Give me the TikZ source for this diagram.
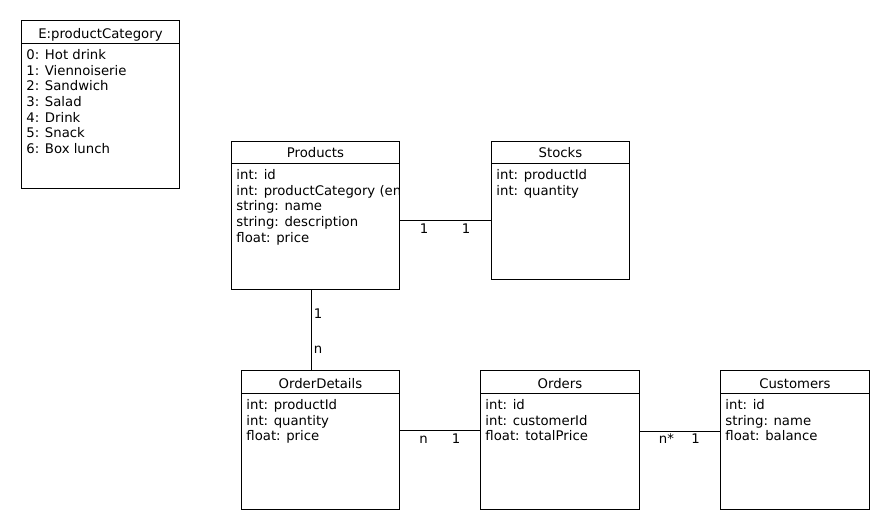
\documentclass[tikz,border=0pt]{standalone}
\usepackage{fontspec}
\setmainfont{DejaVu Sans}
\usetikzlibrary{calc}

\tikzset{
  cls/.style={draw, line width=0.9bp, inner sep=0pt, anchor=north west},
  ttl/.style={anchor=base, inner sep=0pt},
  attr/.style={anchor=north west, align=left, inner sep=0pt},
  mult/.style={anchor=base, inner sep=0pt},
}

\begin{document}
\begin{tikzpicture}[x=1bp, y=-1bp, line width=0.9bp, font=\fontsize{13.3}{15.7}\selectfont]
  \useasboundingbox (0,0) rectangle (890,530);
  % enum box
  \node[cls, minimum width=158bp, minimum height=168bp] (ecat) at (21,20) {};
  \draw ([yshift=-23bp]ecat.north west) -- ([yshift=-23bp]ecat.north east);
  \node[ttl] (ecatT) at ([yshift=-19bp]ecat.north) {E:productCategory};
  \node[attr] (ecatA) at ([xshift=5bp,yshift=-29bp]ecat.north west)
    {0: Hot drink\\1: Viennoiserie\\2: Sandwich\\3: Salad\\4: Drink\\5: Snack\\6: Box lunch};
  % Products
  \node[cls, minimum width=168bp, minimum height=148bp] (prod) at (231,141) {};
  \draw ([yshift=-22bp]prod.north west) -- ([yshift=-22bp]prod.north east);
  \node[ttl] (prodT) at ([yshift=-17bp]prod.north) {Products};
  \begin{scope}
    \clip (prod.north west) rectangle (prod.south east);
    \node[attr] (prodA) at ([xshift=5bp,yshift=-28bp]prod.north west)
      {int: id\\int: productCategory (en\\string: name\\string: description\\float: price};
  \end{scope}
  % Stocks
  \node[cls, minimum width=138bp, minimum height=138bp] (stock) at (491,141) {};
  \draw ([yshift=-22bp]stock.north west) -- ([yshift=-22bp]stock.north east);
  \node[ttl] (stockT) at ([yshift=-17bp]stock.north) {Stocks};
  \node[attr] (stockA) at ([xshift=5bp,yshift=-28bp]stock.north west)
    {int: productId\\int: quantity};
  % OrderDetails
  \node[cls, minimum width=158bp, minimum height=139bp] (odet) at (241,370) {};
  \draw ([yshift=-23bp]odet.north west) -- ([yshift=-23bp]odet.north east);
  \node[ttl] (odetT) at ([yshift=-18bp]odet.north) {OrderDetails};
  \node[attr] (odetA) at ([xshift=5bp,yshift=-29bp]odet.north west)
    {int: productId\\int: quantity\\float: price};
  % Orders
  \node[cls, minimum width=159bp, minimum height=139bp] (ord) at (480,370) {};
  \draw ([yshift=-23bp]ord.north west) -- ([yshift=-23bp]ord.north east);
  \node[ttl] (ordT) at ([yshift=-18bp]ord.north) {Orders};
  \node[attr] (ordA) at ([xshift=5bp,yshift=-29bp]ord.north west)
    {int: id\\int: customerId\\float: totalPrice};
  % Customers
  \node[cls, minimum width=149bp, minimum height=139bp] (cust) at (720,370) {};
  \draw ([yshift=-23bp]cust.north west) -- ([yshift=-23bp]cust.north east);
  \node[ttl] (custT) at ([yshift=-18bp]cust.north) {Customers};
  \node[attr] (custA) at ([xshift=5bp,yshift=-29bp]cust.north west)
    {int: id\\string: name\\float: balance};

  % relations
  \draw (prod.east |- 0,220) -- (stock.west |- 0,220);
  \node[mult] (ps1) at (424,234) {1};
  \node[mult] (ps2) at (466,234) {1};
  \draw (prod.south -| 311,0) -- (odet.north -| 311,0);
  \node[mult] (po1) at (318,319) {1};
  \node[mult] (po2) at (318,354) {n};
  \draw (odet.east |- 0,430) -- (ord.west |- 0,430);
  \node[mult] (oo1) at (423.5,443) {n};
  \node[mult] (oo2) at (456,443) {1};
  \draw (ord.east |- 0,431) -- (cust.west |- 0,431);
  \node[mult] (oc1) at (666.5,443) {n*};
  \node[mult] (oc2) at (695.5,443) {1};
\end{tikzpicture}
\end{document}
